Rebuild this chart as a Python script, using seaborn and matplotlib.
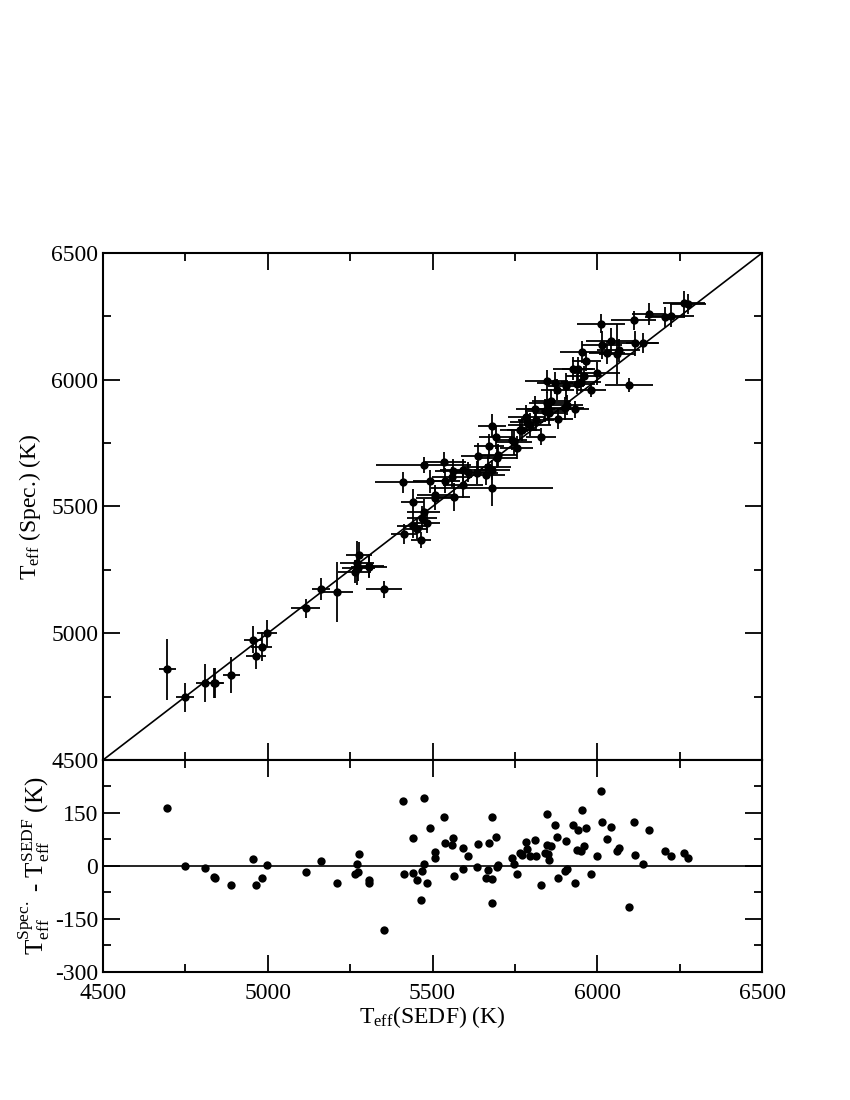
import matplotlib
matplotlib.use("Agg")
import matplotlib.pyplot as plt
from matplotlib.ticker import MultipleLocator
import numpy as np
import pandas as pd
import seaborn as sns

# Teff from SED fitting (x) and spectroscopic Teff (y), in K
teff_sedf = [4695, 4748, 4809, 4837, 4839, 4889, 4956, 4965, 4981, 4997,
             5115, 5162, 5211, 5264, 5275, 5271, 5276, 5307, 5308, 5353,
             5411, 5414, 5440, 5441, 5452, 5464, 5469, 5473, 5473, 5483,
             5491, 5507, 5509, 5536, 5537, 5559, 5563, 5564, 5594, 5593,
             5609, 5635, 5637, 5661, 5667, 5671, 5681, 5681, 5680, 5692,
             5696, 5700, 5742, 5747, 5755, 5766, 5772, 5785, 5786, 5795,
             5812, 5814, 5829, 5840, 5846, 5848, 5851, 5854, 5861, 5871,
             5878, 5880, 5901, 5904, 5908, 5927, 5931, 5937, 5942, 5950,
             5953, 5960, 5967, 5982, 5998, 6010, 6014, 6030, 6041, 6060,
             6065, 6096, 6110, 6113, 6138, 6157, 6205, 6224, 6263, 6276]

teff_spec = [4858, 4748, 4803, 4805, 4804, 4836, 4975, 4912, 4947, 5000,
             5098, 5175, 5163, 5242, 5258, 5278, 5310, 5266, 5261, 5173,
             5595, 5392, 5518, 5422, 5411, 5368, 5456, 5664, 5479, 5436,
             5599, 5546, 5532, 5674, 5602, 5617, 5641, 5536, 5644, 5585,
             5636, 5633, 5699, 5626, 5657, 5737, 5819, 5645, 5574, 5773,
             5693, 5702, 5764, 5753, 5732, 5803, 5803, 5852, 5833, 5823,
             5886, 5843, 5776, 5878, 5994, 5908, 5884, 5870, 5917, 5987,
             5961, 5845, 5887, 5975, 5899, 6044, 5883, 5982, 6044, 5992,
             6111, 6016, 6075, 5959, 6026, 6221, 6138, 6106, 6151, 6102,
             6116, 5979, 6234, 6143, 6145, 6258, 6248, 6252, 6301, 6298]

err_sedf = [25, 28, 28, 28, 28, 26, 28, 30, 32, 30,
            44, 28, 48, 50, 50, 52, 40, 45, 55, 54,
            85, 40, 35, 50, 35, 30, 45, 145, 50, 40,
            50, 55, 60, 65, 45, 60, 55, 50, 70, 60,
            55, 65, 50, 60, 70, 45, 43, 55, 185, 50,
            60, 55, 45, 55, 50, 60, 45, 55, 50, 65,
            60, 55, 45, 60, 64, 55, 70, 50, 60, 55,
            50, 45, 60, 55, 50, 60, 45, 55, 50, 60,
            66, 55, 45, 44, 70, 73, 60, 55, 76, 55,
            65, 72, 69, 71, 50, 51, 60, 70, 65, 55]

err_spec = [120, 57, 76, 59, 59, 72, 53, 53, 56, 53,
            36, 44, 120, 45, 50, 86, 50, 45, 45, 35,
            40, 40, 50, 45, 40, 30, 45, 30, 50, 40,
            45, 40, 45, 41, 50, 40, 45, 55, 45, 50,
            40, 45, 50, 40, 45, 50, 45, 40, 71, 45,
            40, 45, 40, 50, 45, 40, 45, 50, 40, 45,
            50, 40, 35, 45, 45, 45, 40, 50, 45, 45,
            40, 40, 45, 50, 40, 45, 35, 40, 45, 40,
            43, 40, 40, 29, 45, 37, 56, 45, 53, 118,
            45, 26, 36, 49, 40, 44, 40, 45, 50, 40]

df = pd.DataFrame({"sedf": teff_sedf, "spec": teff_spec,
                   "xerr": err_sedf, "yerr": err_spec})
df["resid"] = df["spec"] - df["sedf"]

sns.set_style("ticks")
plt.rcParams["font.family"] = ["Liberation Serif", "DejaVu Serif"]
plt.rcParams["mathtext.fontset"] = "custom"
plt.rcParams["mathtext.rm"] = "Liberation Serif"
plt.rcParams["mathtext.it"] = "Liberation Serif:italic"
plt.rcParams["axes.unicode_minus"] = False
plt.rcParams["text.color"] = "black"
plt.rcParams["axes.labelcolor"] = "black"
plt.rcParams["xtick.color"] = "black"
plt.rcParams["ytick.color"] = "black"
plt.rcParams["axes.edgecolor"] = "black"

fig = plt.figure(figsize=(8.5, 11), dpi=100)
ax1 = fig.add_axes([0.1212, 0.3091, 0.7753, 0.4609])
ax2 = fig.add_axes([0.1212, 0.1164, 0.7753, 0.1927])

# top panel: spectroscopic vs SED Teff with error bars
ax1.errorbar(df["sedf"], df["spec"], xerr=df["xerr"], yerr=df["yerr"],
             fmt="none", ecolor="black", elinewidth=1.3, capsize=0, zorder=2)
sns.scatterplot(data=df, x="sedf", y="spec", ax=ax1, color="black",
                s=36, edgecolor="black", linewidth=0, zorder=3)
ax1.plot([4500, 6500], [4500, 6500], color="black", lw=1.2, zorder=1)
ax1.set_xlim(4500, 6500)
ax1.set_ylim(4500, 6500)
ax1.set_xlabel("")
ax1.set_ylabel(r"$\mathrm{T_{eff}}$ (Spec.) (K)", fontsize=17, labelpad=6)
ax1.tick_params(labelbottom=False)

# bottom panel: residuals
sns.scatterplot(data=df, x="sedf", y="resid", ax=ax2, color="black",
                s=36, edgecolor="black", linewidth=0, zorder=3)
ax2.axhline(0, color="black", lw=1.2, zorder=1)
ax2.set_xlim(4500, 6500)
ax2.set_ylim(-300, 300)
ax2.set_yticks([-300, -150, 0, 150])
ax2.set_xlabel(r"$\mathrm{T_{eff}}$(SEDF) (K)", fontsize=17, labelpad=0)
ax2.set_ylabel(r"$\mathrm{T_{eff}^{Spec.}}$ - $\mathrm{T_{eff}^{SEDF}}$ (K)",
               fontsize=18, labelpad=2)

for ax, xmaj, xmin, ymaj, ymin in [(ax1, 500, 250, 500, 250),
                                   (ax2, 500, 250, 150, 75)]:
    ax.xaxis.set_major_locator(MultipleLocator(xmaj))
    ax.xaxis.set_minor_locator(MultipleLocator(xmin))
    ax.yaxis.set_minor_locator(MultipleLocator(ymin))
    if ax is ax1:
        ax.yaxis.set_major_locator(MultipleLocator(ymaj))
    ax.tick_params(which="both", direction="in", top=True, right=True,
                   width=1.3, labelsize=17)
    ax.tick_params(which="major", length=12)
    ax.tick_params(which="minor", length=6)
    for sp in ax.spines.values():
        sp.set_linewidth(1.5)
        sp.set_visible(True)
    ax.grid(False)

ax2.yaxis.set_minor_locator(MultipleLocator(75))
ax2.tick_params(axis="x", which="major", pad=8)

fig.savefig("out.png", dpi=100)
